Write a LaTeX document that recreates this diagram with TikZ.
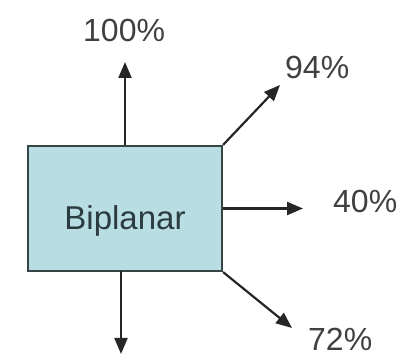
\documentclass[tikz,border=0pt]{standalone}
\usepackage{fontspec}
\setmainfont{Liberation Sans}
\usetikzlibrary{arrows.meta}
\definecolor{boxfill}{HTML}{B8DDE2}
\definecolor{boxline}{HTML}{354545}
\definecolor{boxtext}{HTML}{2A3C40}
\definecolor{labeltext}{HTML}{404040}
\begin{document}
\begin{tikzpicture}[x=1pt,y=-1pt,
  mainbox/.style={draw=boxline, line width=2.2pt, fill=boxfill, text=boxtext,
    minimum width=194pt, minimum height=125pt, inner sep=0pt,
    text height=43pt, text depth=0pt, font=\fontsize{33}{40}\selectfont},
  pct/.style={anchor=base west, inner sep=0pt, text=labeltext, font=\fontsize{32}{38}\selectfont},
  flow/.style={line width=2.2pt, draw=black!85, -{Triangle[length=16pt,width=13pt]}}]
\useasboundingbox (0,0) rectangle (410,358);
\node[mainbox] (box) at (125,208.5) {Biplanar};
\node[pct] (p100) at (83,42) {100\%};
\node[pct] (p94) at (285,79) {94\%};
\node[pct] (p40) at (333,213) {40\%};
\node[pct] (p72) at (308,351) {72\%};
\coordinate (tup) at (125,62);
\coordinate (tne) at (280,85);
\coordinate (te) at (303,208.5);
\coordinate (tse) at (292,328);
\coordinate (bs) at (121,271);
\coordinate (tdown) at (121,354);
\draw[flow] (box.north) -- (tup);
\draw[flow] (box.north east) -- (tne);
\draw[flow] (box.east) -- (te);
\draw[flow] (box.south east) -- (tse);
\draw[flow] (bs) -- (tdown);
\end{tikzpicture}
\end{document}
